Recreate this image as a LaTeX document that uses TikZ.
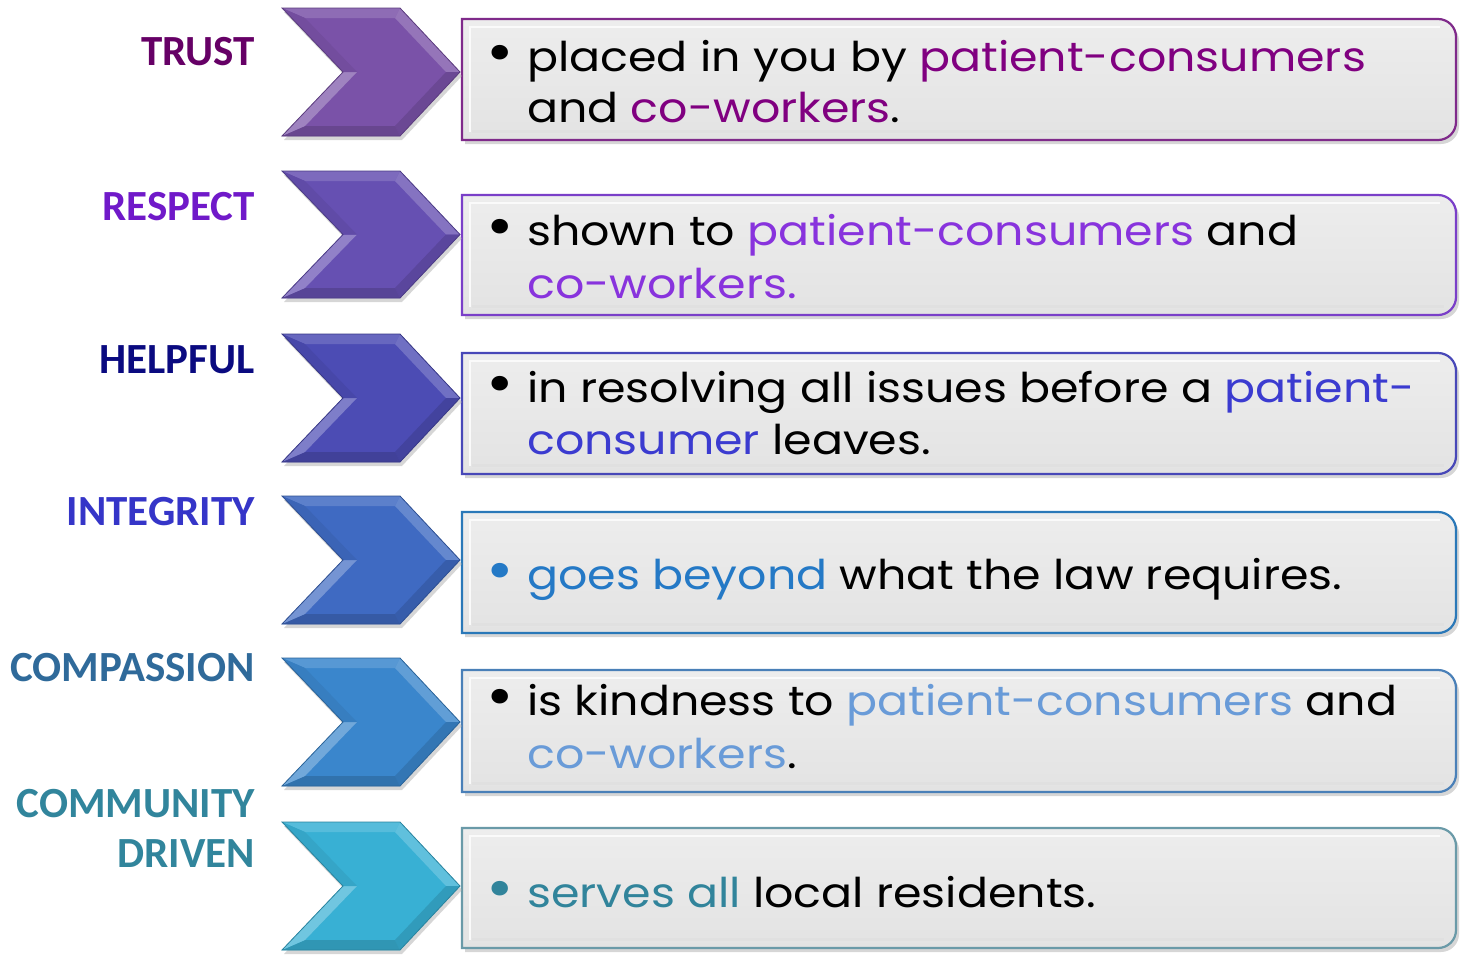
\documentclass[tikz,border=0pt]{standalone}
\usepackage{fontspec}
\setmainfont{Poppins}[FakeStretch=1.12]
\newfontfamily\lblfont{Carlito}
\definecolor{lab1}{HTML}{660066}
\definecolor{lab2}{HTML}{7019C9}
\definecolor{lab3}{HTML}{0A0A80}
\definecolor{lab4}{HTML}{3535C8}
\definecolor{lab5}{HTML}{2F6A9A}
\definecolor{lab6}{HTML}{31859C}
\definecolor{h1}{HTML}{800080}
\definecolor{h2}{HTML}{8833DD}
\definecolor{h3}{HTML}{3B3BD0}
\definecolor{h4}{HTML}{2479C6}
\definecolor{h5}{HTML}{699BD8}
\definecolor{h6}{HTML}{31849B}
\definecolor{b1}{HTML}{7F2A8A}
\definecolor{b2}{HTML}{7A3FC8}
\definecolor{b3}{HTML}{4848B8}
\definecolor{b4}{HTML}{2A78B8}
\definecolor{b5}{HTML}{4A80B8}
\definecolor{b6}{HTML}{6A9AA8}
\definecolor{c1}{HTML}{7A52A8}
\definecolor{c2}{HTML}{6650B2}
\definecolor{c3}{HTML}{4C4CB4}
\definecolor{c4}{HTML}{3F6AC2}
\definecolor{c5}{HTML}{3A86CC}
\definecolor{c6}{HTML}{38B0D4}
\definecolor{boxtop}{HTML}{EDEDED}
\definecolor{boxbot}{HTML}{E3E3E3}
\tikzset{
  lbl/.style={anchor=base east, inner sep=0pt, font=\lblfont\bfseries\fontsize{43}{50}\selectfont},
  body/.style={anchor=base west, inner sep=0pt, font=\fontsize{41}{48}\selectfont},
  dropshadow/.style={fill=black!35, opacity=.45},
}
\newcommand\bul{\llap{\raisebox{-0.05ex}{\scalebox{1.45}{\textbullet}}\hspace{13pt}}}
% chevron: top, bottom, colour
\newcommand\chevron[3]{%
  \pgfmathsetmacro\ct{#1}\pgfmathsetmacro\cb{#2}\pgfmathsetmacro\cm{(#1+#2)/2}%
  \pgfmathsetmacro\it{#1+10}\pgfmathsetmacro\ib{#2-10}%
  \fill[dropshadow,xshift=2pt,yshift=-4pt] (282,\ct)--(400,\ct)--(460,\cm)--(400,\cb)--(282,\cb)--(343,\cm)--cycle;
  \fill[#3] (282,\ct)--(400,\ct)--(460,\cm)--(400,\cb)--(282,\cb)--(343,\cm)--cycle;
  \fill[#3!85!white] (282,\ct)--(400,\ct)--(395,\it)--(305,\it)--cycle;
  \fill[#3!80!white] (400,\ct)--(460,\cm)--(446,\cm)--(395,\it)--cycle;
  \fill[#3!88!black] (460,\cm)--(400,\cb)--(395,\ib)--(446,\cm)--cycle;
  \fill[#3!85!black] (400,\cb)--(282,\cb)--(305,\ib)--(395,\ib)--cycle;
  \fill[#3!72!white] (282,\cb)--(343,\cm)--(357,\cm)--(305,\ib)--cycle;
  \fill[#3!94!black] (343,\cm)--(282,\ct)--(305,\it)--(357,\cm)--cycle;
  \draw[#3!75!black, line width=.8pt] (282,\ct)--(400,\ct)--(460,\cm)--(400,\cb)--(282,\cb)--(343,\cm)--cycle;
}
% text box: top, bottom, border colour
\newcommand\textbox[3]{%
  \fill[dropshadow,xshift=3pt,yshift=-4pt] (462,#1) [rounded corners=18pt] -- (1456,#1) -- (1456,#2) [sharp corners] -- (462,#2) -- cycle;
  \shade[top color=boxtop, bottom color=boxbot] (462,#1) [rounded corners=18pt] -- (1456,#1) -- (1456,#2) [sharp corners] -- (462,#2) -- cycle;
  \draw[white!70!boxtop, line width=2pt] (470,#2-8) -- (470,#1+8) -- (1440,#1+8);
  \draw[black!12, line width=3pt] (472,#2-9) -- (1444,#2-9);
  \draw[#3, line width=2.2pt] (462,#1) [rounded corners=18pt] -- (1456,#1) -- (1456,#2) [sharp corners] -- (462,#2) -- cycle;
}
\begin{document}
\begin{tikzpicture}[x=1pt,y=-1pt]
\useasboundingbox[fill=white] (0,0) rectangle (1461,959);
% boxes
\textbox{19}{140}{b1}
\textbox{195}{315}{b2}
\textbox{353}{474}{b3}
\textbox{512}{633}{b4}
\textbox{670}{792}{b5}
\textbox{828}{948}{b6}
% chevrons
\chevron{8}{136}{c1}
\chevron{171}{298}{c2}
\chevron{334}{462}{c3}
\chevron{496}{624}{c4}
\chevron{658}{786}{c5}
\chevron{822}{950}{c6}
% labels
\node[lbl, text=lab1] (l1) at (255,65) {TRUST};
\node[lbl, text=lab2] (l2) at (255,220) {RESPECT};
\node[lbl, text=lab3] (l3) at (255,373) {HELPFUL};
\node[lbl, text=lab4] (l4) at (255,525) {INTEGRITY};
\node[lbl, text=lab5] (l5) at (255,681) {COMPASSION};
\node[lbl, text=lab6] (l6a) at (255,817) {COMMUNITY};
\node[lbl, text=lab6] (l6b) at (255,867) {DRIVEN};
% texts
\node[body] (t1a) at (527,71) {\bul placed in you by \textcolor{h1}{patient-consumers}};
\node[body] (t1b) at (527,122) {and \textcolor{h1}{co-workers}.};
\node[body] (t2a) at (527,245) {\bul shown to \textcolor{h2}{patient-consumers} and};
\node[body] (t2b) at (527,298) {\textcolor{h2}{co-workers.}};
\node[body] (t3a) at (527,402) {\bul in resolving all issues before a \textcolor{h3}{patient-}};
\node[body] (t3b) at (527,454) {\textcolor{h3}{consumer} leaves.};
\node[body] (t4a) at (527,589) {\textcolor{h4}{\bul goes beyond} what the law requires.};
\node[body] (t5a) at (527,715) {\bul is kindness to \textcolor{h5}{patient-consumers} and};
\node[body] (t5b) at (527,768) {\textcolor{h5}{co-workers}.};
\node[body] (t6a) at (527,907) {\textcolor{h6}{\bul serves all} local residents.};
\end{tikzpicture}
\end{document}
